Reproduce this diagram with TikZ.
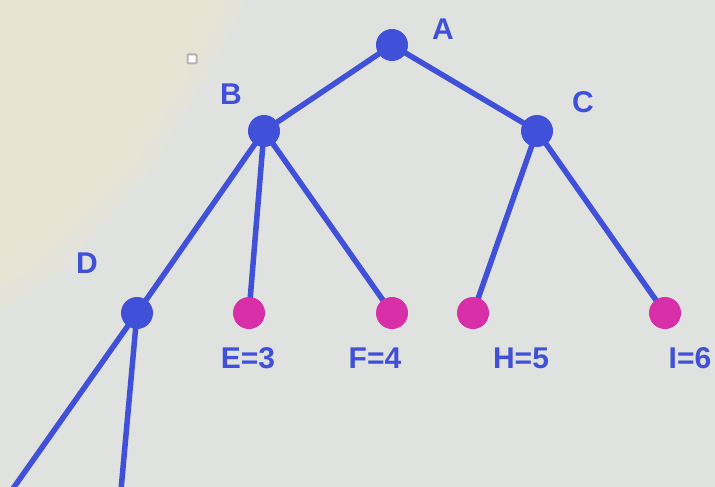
\documentclass[tikz,border=0pt]{standalone}
\usepackage{fontspec}
\setmainfont{Liberation Sans}
\definecolor{bg}{RGB}{224,226,223}
\definecolor{beige}{RGB}{234,229,212}
\definecolor{nblue}{RGB}{64,80,216}
\definecolor{npink}{RGB}{216,47,168}
\pgfdeclarelayer{bgl}
\pgfdeclarelayer{edges}
\pgfsetlayers{bgl,edges,main}
\tikzset{
  inner/.style={circle,fill=nblue,minimum size=32pt,inner sep=0pt},
  leaf/.style={circle,fill=npink,minimum size=32pt,inner sep=0pt},
  lbl/.style={text=nblue,font=\fontsize{30}{30}\selectfont\bfseries,inner sep=0pt},
  edge/.style={draw=nblue,line width=5.5pt}
}
\begin{document}
\begin{tikzpicture}[x=1pt,y=-1pt]
\useasboundingbox (0,0) rectangle (715,487);
\begin{pgfonlayer}{bgl}
\fill[bg] (0,0) rectangle (715,487);
\fill[beige,opacity=0.4] (0,0) -- (245,0) -- (215,60) -- (150,170) -- (60,270) -- (0,310) -- cycle;
\fill[beige,opacity=0.5] (0,0) -- (228,0) -- (198,60) -- (132,170) -- (50,252) -- (0,292) -- cycle;
\fill[beige,opacity=0.6] (0,0) -- (205,0) -- (178,60) -- (112,160) -- (40,232) -- (0,262) -- cycle;
\end{pgfonlayer}
\node[draw=gray!60,fill=white,line width=2pt,minimum size=9pt,inner sep=0pt,rounded corners=1pt] (sq) at (192,59) {};
\node[inner] (A) at (392,45) {};
\node[inner] (B) at (264,131) {};
\node[inner] (C) at (537,131) {};
\node[inner] (D) at (137,313) {};
\node[leaf] (E) at (249,313) {};
\node[leaf] (F) at (392,313) {};
\node[leaf] (H) at (473,313) {};
\node[leaf] (I) at (665,313) {};
\coordinate (d1) at (12,490);
\coordinate (d2) at (121,490);
\begin{pgfonlayer}{edges}
\draw[edge] (A.center) -- (B.center);
\draw[edge] (A.center) -- (C.center);
\draw[edge] (B.center) -- (D.center);
\draw[edge] (B.center) -- (E.center);
\draw[edge] (B.center) -- (F.center);
\draw[edge] (C.center) -- (H.center);
\draw[edge] (C.center) -- (I.center);
\draw[edge] (D.center) -- (d1);
\draw[edge] (D.center) -- (d2);
\end{pgfonlayer}
\node[lbl] (lA) at (443,29) {A};
\node[lbl] (lB) at (231,94) {B};
\node[lbl] (lC) at (583,102) {C};
\node[lbl] (lD) at (87,263) {D};
\node[lbl] (lE) at (248,358) {E=3};
\node[lbl] (lF) at (375,358) {F=4};
\node[lbl] (lH) at (521,358) {H=5};
\node[lbl] (lI) at (690,358) {I=6};
\end{tikzpicture}
\end{document}
